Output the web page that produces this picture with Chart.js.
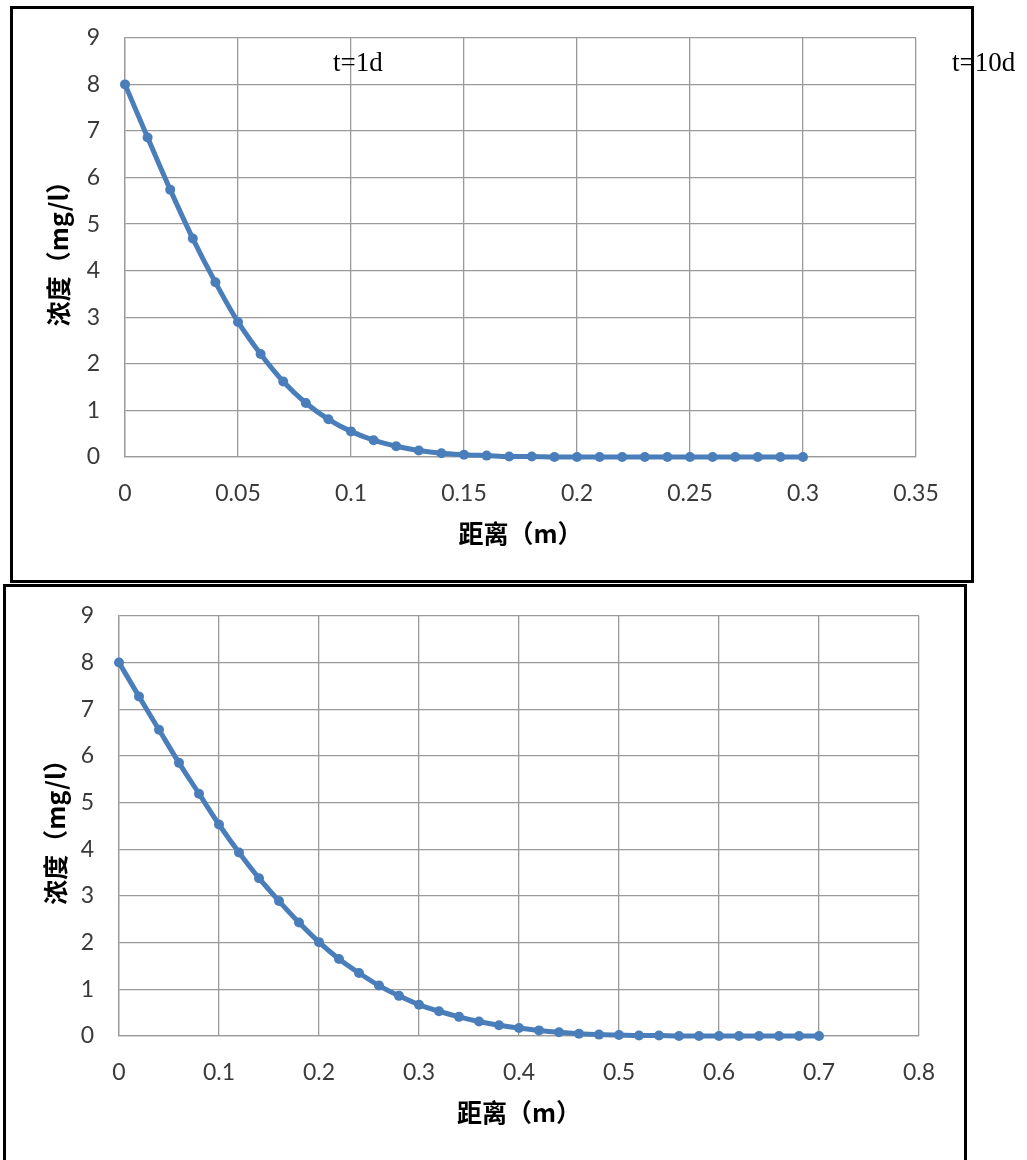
<!DOCTYPE html>
<html>
<head>
<meta charset="utf-8">
<script src="https://cdn.jsdelivr.net/npm/chart.js@4.4.0/dist/chart.umd.min.js"></script>
<style>
  body { margin: 0; background: #fff; width: 1027px; height: 1160px; overflow: hidden; position: relative; }
  .box { position: absolute; border: 3px solid #000; box-sizing: border-box; background: #fff; overflow: hidden; }
  .box canvas { display: block; position: absolute; left: 0; top: -10px; }
  .lbl { position: absolute; font-family: "Liberation Serif", "Times New Roman", serif; font-size: 27px; color: #000; line-height: 1; white-space: nowrap; }
</style>
</head>
<body>
<div class="box" id="box1" style="left:10px; top:6px; width:964px; height:577px;">
  <canvas id="chart1" width="958" height="581"></canvas>
</div>
<div class="box" id="box2" style="left:3px; top:584px; width:964px; height:600px;">
  <canvas id="chart2" width="958" height="583"></canvas>
</div>
<div class="lbl" style="left:333px; top:49px;">t=1d</div>
<div class="lbl" style="left:952px; top:49px;">t=10d</div>

<script>
// t = 1d
const dist1 = [0, 0.01, 0.02, 0.03, 0.04, 0.05, 0.06, 0.07, 0.08, 0.09, 0.1,
               0.11, 0.12, 0.13, 0.14, 0.15, 0.16, 0.17, 0.18, 0.19, 0.2,
               0.21, 0.22, 0.23, 0.24, 0.25, 0.26, 0.27, 0.28, 0.29, 0.3];
const conc1 = [8, 6.86, 5.74, 4.69, 3.75, 2.90, 2.21, 1.62, 1.16, 0.81, 0.55,
               0.36, 0.23, 0.14, 0.08, 0.05, 0.03, 0.01, 0.01, 0, 0,
               0, 0, 0, 0, 0, 0, 0, 0, 0, 0];

// t = 10d
const dist2 = [0, 0.02, 0.04, 0.06, 0.08, 0.1, 0.12, 0.14, 0.16, 0.18, 0.2,
               0.22, 0.24, 0.26, 0.28, 0.3, 0.32, 0.34, 0.36, 0.38, 0.4,
               0.42, 0.44, 0.46, 0.48, 0.5, 0.52, 0.54, 0.56, 0.58, 0.6,
               0.62, 0.64, 0.66, 0.68, 0.7];
const conc2 = [8, 7.27, 6.56, 5.85, 5.19, 4.53, 3.93, 3.38, 2.89, 2.43, 2.01,
               1.65, 1.35, 1.08, 0.86, 0.67, 0.53, 0.41, 0.31, 0.23, 0.17,
               0.12, 0.08, 0.05, 0.03, 0.02, 0.01, 0.01, 0, 0, 0,
               0, 0, 0, 0, 0];

const xTitle = "距离（m）";
const yTitle = "浓度（mg/l）";

const gridColor = "#9a9a9a";
const lineColor = "#4a7ebb";
const tickFont = { family: "Lato, 'Open Sans', sans-serif", size: 23 };
const titleFont = { family: "'Noto Sans CJK SC', sans-serif", size: 25, weight: "bold" };

function makeChart(id, xs, ys, xMax, xStep, opts) {
    const ctx = document.getElementById(id).getContext("2d");
    const points = xs.map((x, i) => ({ x: x, y: ys[i] }));

    return new Chart(ctx, {
        type: "line",
        data: {
            datasets: [{
                data: points,
                borderColor: lineColor,
                backgroundColor: lineColor,
                borderWidth: 5,
                pointRadius: 5,
                pointBorderWidth: 0,
                pointBackgroundColor: lineColor,
                cubicInterpolationMode: "monotone",
                fill: false,
                clip: false
            }]
        },
        options: {
            responsive: false,
            animation: false,
            // y tick padding forces ~38px at the top, the canvas is shifted up to match
            layout: { padding: { left: 0, top: 38, right: opts.padRight, bottom: 0 } },
            plugins: { legend: { display: false }, tooltip: { enabled: false } },
            scales: {
                x: {
                    type: "linear",
                    min: 0,
                    max: xMax,
                    afterFit: s => { s.height = opts.xHeight; },
                    grid: { color: gridColor, lineWidth: 1.3, drawTicks: false },
                    border: { color: gridColor, width: 1.3 },
                    ticks: {
                        stepSize: xStep,
                        padding: 23,
                        color: "#3a3a3a",
                        font: tickFont,
                        maxRotation: 0,
                        callback: v => String(Number(v.toFixed(2)))
                    },
                    title: {
                        display: true,
                        text: xTitle,
                        color: "#000",
                        font: titleFont,
                        padding: { top: 0, bottom: opts.xTitlePad }
                    }
                },
                y: {
                    min: 0,
                    max: 9,
                    afterFit: s => { s.width = opts.yWidth; },
                    grid: { color: gridColor, lineWidth: 1.3, drawTicks: false },
                    border: { color: gridColor, width: 1.3 },
                    ticks: {
                        stepSize: 1,
                        padding: 25,
                        color: "#3a3a3a",
                        font: tickFont
                    },
                    title: {
                        display: true,
                        text: yTitle,
                        color: "#000",
                        font: titleFont,
                        padding: { top: opts.yTitlePad, bottom: 0 }
                    }
                }
            }
        }
    });
}

makeChart("chart1", dist1, conc1, 0.35, 0.05, { padRight: 55, xHeight: 123, yWidth: 112, yTitlePad: 30, xTitlePad: 32 });
makeChart("chart2", dist2, conc2, 0.8, 0.1, { padRight: 45, xHeight: 124, yWidth: 113, yTitlePad: 34, xTitlePad: 33 });
</script>
</body>
</html>
